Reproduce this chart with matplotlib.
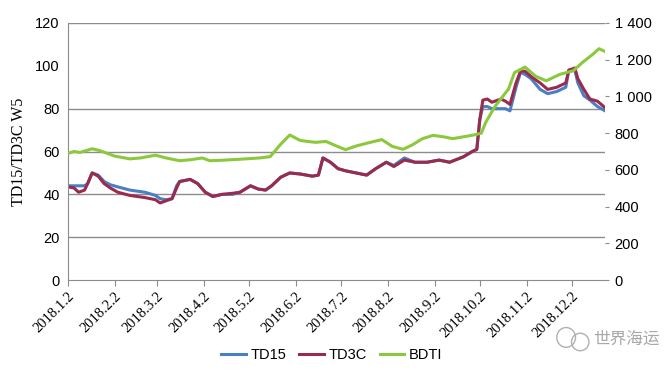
import matplotlib
matplotlib.use("Agg")
import matplotlib.pyplot as plt
from matplotlib.patches import Ellipse
import pandas as pd

# TD15 / TD3C (Worldscale points, left axis)
td_dates = ["2018-01-02", "2018-01-06", "2018-01-09", "2018-01-13", "2018-01-15",
            "2018-01-18", "2018-01-22", "2018-01-26", "2018-01-30", "2018-02-04",
            "2018-02-12", "2018-02-22", "2018-03-01", "2018-03-04", "2018-03-08",
            "2018-03-12", "2018-03-15", "2018-03-17", "2018-03-24", "2018-03-29",
            "2018-04-03", "2018-04-08", "2018-04-14", "2018-04-21", "2018-04-26",
            "2018-05-03", "2018-05-08", "2018-05-13", "2018-05-17", "2018-05-23",
            "2018-05-29", "2018-06-05", "2018-06-13", "2018-06-17", "2018-06-20",
            "2018-06-25", "2018-06-30", "2018-07-05", "2018-07-12", "2018-07-19",
            "2018-07-25", "2018-08-01", "2018-08-06", "2018-08-13", "2018-08-20",
            "2018-08-28", "2018-09-05", "2018-09-12", "2018-09-21", "2018-09-27",
            "2018-09-30", "2018-10-02", "2018-10-04", "2018-10-07", "2018-10-10",
            "2018-10-16", "2018-10-19", "2018-10-22", "2018-10-26", "2018-10-29",
            "2018-11-01", "2018-11-05", "2018-11-11", "2018-11-16", "2018-11-22",
            "2018-11-28", "2018-11-30", "2018-12-04", "2018-12-06", "2018-12-10",
            "2018-12-14", "2018-12-19", "2018-12-24"]
td15 = [44, 44, 44, 44, 45, 50, 49, 46, 44.5, 43.5,
        42, 41, 39.5, 38, 37.5, 38, 44, 46, 47, 45,
        41, 39, 40, 40, 41, 44, 42.5, 42, 44, 48,
        50, 49.5, 48.5, 49, 57, 55, 52, 51, 50, 49,
        52, 55, 53.5, 57, 55, 55, 56, 55, 57.5, 60,
        61, 75, 81, 81, 80, 80, 80, 79, 90, 97,
        96, 94, 89, 87, 88, 90, 98, 98, 92, 86,
        84, 81, 79]
td3c = [43.5, 43, 41, 42, 45, 50, 48.5, 45, 43, 41,
        39.5, 38.5, 37.5, 36, 37, 38, 43, 46, 47, 45,
        41, 39, 40, 40.5, 41, 44, 42.5, 42, 44, 48,
        50, 49.5, 48.5, 49, 57, 55, 52, 51, 50, 49,
        52, 55, 53, 56, 55, 55, 56, 55, 57.5, 60,
        61, 75, 84, 84.5, 83, 84.5, 83.5, 82, 92, 97.5,
        97.5, 95, 92, 89, 90, 92, 98, 99, 94, 89,
        84.5, 83.5, 80.5]

# BDTI (right axis)
bdti_dates = ["2018-01-02", "2018-01-06", "2018-01-10", "2018-01-18", "2018-01-23",
              "2018-02-02", "2018-02-12", "2018-02-19", "2018-03-01", "2018-03-08",
              "2018-03-17", "2018-03-24", "2018-04-01", "2018-04-06", "2018-04-13",
              "2018-04-26", "2018-05-09", "2018-05-16", "2018-05-23", "2018-05-29",
              "2018-06-05", "2018-06-15", "2018-06-22", "2018-06-29", "2018-07-05",
              "2018-07-12", "2018-07-19", "2018-07-29", "2018-08-05", "2018-08-12",
              "2018-08-18", "2018-08-25", "2018-09-01", "2018-09-08", "2018-09-14",
              "2018-09-21", "2018-09-28", "2018-10-03", "2018-10-06", "2018-10-12",
              "2018-10-21", "2018-10-25", "2018-11-01", "2018-11-08", "2018-11-15",
              "2018-11-24", "2018-12-03", "2018-12-09", "2018-12-16", "2018-12-20",
              "2018-12-24"]
bdti = [690, 700, 695, 715, 705, 675, 660, 665, 680, 665,
        650, 655, 665, 650, 652, 658, 665, 672, 740, 790,
        760, 750, 755, 730, 710, 730, 745, 765, 728, 712,
        735, 770, 788, 780, 770, 780, 790, 800, 860, 945,
        1040, 1130, 1160, 1110, 1085, 1120, 1140, 1185, 1230, 1260,
        1245]

tick_dates = ["2018-01-02", "2018-02-02", "2018-03-02", "2018-04-02", "2018-05-02",
              "2018-06-02", "2018-07-02", "2018-08-02", "2018-09-02", "2018-10-02",
              "2018-11-02", "2018-12-02"]
tick_labels = ["2018.1.2", "2018.2.2", "2018.3.2", "2018.4.2", "2018.5.2", "2018.6.2",
               "2018.7.2", "2018.8.2", "2018.9.2", "2018.10.2", "2018.11.2", "2018.12.2"]

td_x = pd.to_datetime(td_dates)
bdti_x = pd.to_datetime(bdti_dates)

fig = plt.figure(figsize=(6.7, 3.8), dpi=100)
ax = fig.add_axes([0.1015, 0.263, 0.8015, 0.6765])
ax2 = ax.twinx()

c15, c3c, cbd = "#4a7fc1", "#9a2a4e", "#8cc83c"
l1, = ax.plot(td_x, td15, color=c15, lw=2.2, label="TD15")
l2, = ax.plot(td_x, td3c, color=c3c, lw=2.2, label="TD3C")
l3, = ax2.plot(bdti_x, bdti, color=cbd, lw=2.2, label="BDTI")

ax.set_xlim(pd.Timestamp("2018-01-02"), pd.Timestamp("2018-12-24"))
ax.set_ylim(0, 120)
ax2.set_ylim(0, 1400)

ax.set_yticks([0, 20, 40, 60, 80, 100, 120])
ax2.set_yticks(range(0, 1401, 200))
ax2.set_yticklabels([f"{v:,}".replace(",", " ") for v in range(0, 1401, 200)])

for g in [20, 40, 60, 80, 120]:
    ax.axhline(g, color="#8c8c8c", lw=1.0, zorder=0)

ax.set_xticks(pd.to_datetime(tick_dates))
ax.set_xticklabels(tick_labels, rotation=45, ha="right", rotation_mode="anchor",
                   family="Liberation Serif", fontsize=10.5)

for a in (ax, ax2):
    for s in a.spines.values():
        s.set_visible(False)
ax.spines["left"].set_visible(True)
ax.spines["left"].set_color("#8c8c8c")
ax.spines["bottom"].set_visible(True)
ax.spines["bottom"].set_color("#8c8c8c")

ax.tick_params(axis="y", length=0, labelsize=10.5, pad=6)
ax.tick_params(axis="x", length=4, color="#8c8c8c", pad=3)
ax2.tick_params(axis="y", length=3, color="#8c8c8c", labelsize=10.5, pad=4)
for lab in ax.get_yticklabels() + ax2.get_yticklabels():
    lab.set_family("Liberation Sans")

ax.set_ylabel("TD15/TD3C W5", family="Liberation Serif", fontsize=11.5, labelpad=6)

fig.legend(handles=[l1, l2, l3], loc="center", bbox_to_anchor=(0.495, 0.065), ncol=3,
           frameon=False, prop={"family": "Liberation Sans", "size": 10.5},
           handlelength=1.7, columnspacing=0.9, handletextpad=0.3)

# watermark
fig.text(0.885, 0.108, "世界海运", family=["Noto Sans CJK SC", "DejaVu Sans"],
         fontsize=12, color="#a8a8a8", va="center")
fig.patches.append(Ellipse((0.845, 0.112), 0.028, 0.052, transform=fig.transFigure,
                           fill=False, ec="#b0b0b0", lw=1))
fig.patches.append(Ellipse((0.866, 0.100), 0.026, 0.046, transform=fig.transFigure,
                           fill=False, ec="#b0b0b0", lw=1))

fig.savefig("out.png", dpi=100)
